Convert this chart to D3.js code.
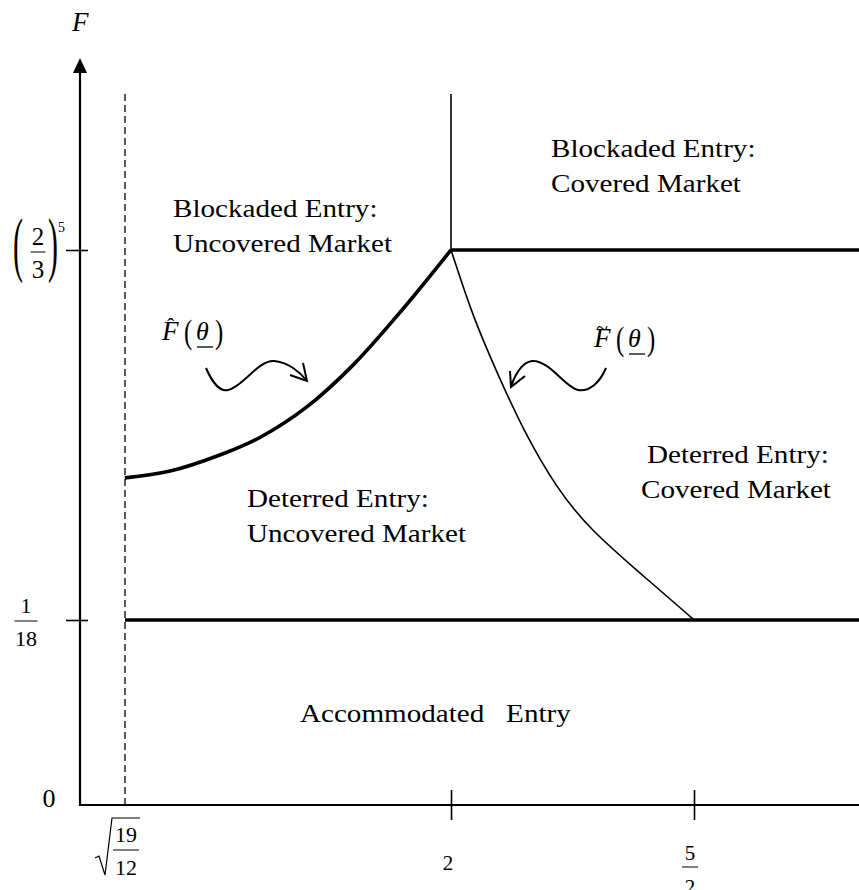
<!DOCTYPE html>
<html lang="en">
<head>
<meta charset="UTF-8">
<script src="https://d3js.org/d3.v7.min.js"></script>
<title>Entry regions</title>
<style>
  body { margin: 0; background: #fff; }
  svg text { font-family: "Liberation Serif", "Times New Roman", serif; fill: #000; }
</style>
</head>
<body>
<svg id="graph" width="859" height="890"></svg>
<script>
// theta (x) and F (y) break points of the schematic
var thetaMin = 1.156, thetaMax = 2.84
var thetaTicks = [Math.sqrt(19 / 12), 2, 2.5]
var fTicks = [0, 1 / 18, Math.pow(2 / 3, 5)]
var fTop = 0.1712        // arrow tip
var fLineTop = 0.1638    // top of dashed line and of the vertical boundary

// F-hat(theta), thick curve
var hatTheta = [1.258, 1.361, 1.474, 1.565, 1.672, 1.777, 1.891, 2.0]
var hatF = [0.0848, 0.0862, 0.0895, 0.0931, 0.0994, 0.1080, 0.1196, 0.1317]
// F-tilde(theta), thin curve
var tildeTheta = [2.0, 2.045, 2.095, 2.148, 2.218, 2.286, 2.389, 2.5]
var tildeF = [0.1317, 0.1179, 0.1064, 0.0947, 0.0825, 0.0742, 0.0652, 0.0556]

var regionText = [
  ["Blockaded Entry:", "Uncovered Market"],
  ["Blockaded Entry:", "Covered Market"],
  ["Deterred Entry:", "Uncovered Market"],
  ["Deterred Entry:", "Covered Market"],
  ["Accommodated\u00a0\u00a0 Entry"]
]

var svg = d3.select("#graph")

// piecewise scales, the picture is not drawn to scale
var x = d3.scaleLinear()
  .domain([thetaMin, thetaTicks[0], thetaTicks[1], thetaTicks[2], thetaMax])
  .range([80, 125, 451, 694, 859])
var y = d3.scaleLinear()
  .domain([fTicks[0], fTicks[1], fTicks[2], fTop])
  .range([805, 620, 250, 58])

var stretch = 1.12

function label(px, py, str, size, opts) {
  opts = opts || {}
  return svg.append("text")
    .attr("transform", "translate(" + px + "," + py + ") scale(" + (opts.sx || 1) + ",1)")
    .attr("font-size", size)
    .attr("font-style", opts.italic ? "italic" : null)
    .attr("text-anchor", opts.anchor || "start")
    .text(str)
}

function frac(cx, yNum, yBar, yDen, num, den, size, half) {
  label(cx, yNum, num, size, {anchor: "middle"})
  svg.append("line").attr("x1", cx - half).attr("x2", cx + half)
    .attr("y1", yBar).attr("y2", yBar).attr("stroke", "#000").attr("stroke-width", 1)
  label(cx, yDen, den, size, {anchor: "middle"})
}

// tick marks through the library axes, labels drawn by hand
svg.append("g")
  .attr("transform", "translate(0,790)")
  .call(d3.axisBottom(x).tickValues(thetaTicks.slice(1)).tickSize(30).tickFormat(""))
  .call(g => g.select(".domain").remove())
  .call(g => g.selectAll(".tick line").attr("stroke-width", 1.6))
svg.append("g")
  .attr("transform", "translate(66,0)")
  .call(d3.axisRight(y).tickValues(fTicks.slice(1)).tickSize(22).tickFormat(""))
  .call(g => g.select(".domain").remove())
  .call(g => g.selectAll(".tick line").attr("stroke-width", 1.6))

// axes
svg.append("line")
  .attr("x1", x(thetaMin)).attr("x2", x(thetaMax))
  .attr("y1", y(0)).attr("y2", y(0))
  .attr("stroke", "#000").attr("stroke-width", 2.2)
svg.append("line")
  .attr("x1", x(thetaMin)).attr("x2", x(thetaMin))
  .attr("y1", y(0) + 1).attr("y2", y(fTop) + 12)
  .attr("stroke", "#000").attr("stroke-width", 2.2)
svg.append("path")
  .attr("d", "M" + x(thetaMin) + "," + y(fTop) + " l-7,15 l14,0 z")
  .attr("fill", "#000")

// dashed line at sqrt(19/12)
svg.append("line")
  .attr("x1", x(thetaTicks[0])).attr("x2", x(thetaTicks[0]))
  .attr("y1", y(0)).attr("y2", y(fLineTop))
  .attr("stroke", "#000").attr("stroke-width", 1.3)
  .attr("stroke-dasharray", "7,4")

// vertical boundary at theta = 2
svg.append("line")
  .attr("x1", x(2)).attr("x2", x(2))
  .attr("y1", y(fTicks[2])).attr("y2", y(fLineTop))
  .attr("stroke", "#000").attr("stroke-width", 1.6)

// horizontal boundaries
svg.append("line")
  .attr("x1", x(2)).attr("x2", x(thetaMax))
  .attr("y1", y(fTicks[2])).attr("y2", y(fTicks[2]))
  .attr("stroke", "#000").attr("stroke-width", 3.6)
svg.append("line")
  .attr("x1", x(thetaTicks[0])).attr("x2", x(thetaMax))
  .attr("y1", y(fTicks[1])).attr("y2", y(fTicks[1]))
  .attr("stroke", "#000").attr("stroke-width", 3.6)

// curves
var hatLine = d3.line().x(d => x(d[0])).y(d => y(d[1])).curve(d3.curveCatmullRom.alpha(0.5))
var tildeLine = d3.line().x(d => x(d[0])).y(d => y(d[1])).curve(d3.curveBasis)
svg.append("path")
  .attr("d", hatLine(d3.zip(hatTheta, hatF)))
  .attr("fill", "none").attr("stroke", "#000").attr("stroke-width", 3.6)
  .attr("stroke-linejoin", "round")
svg.append("path")
  .attr("d", tildeLine(d3.zip(tildeTheta, tildeF)))
  .attr("fill", "none").attr("stroke", "#000").attr("stroke-width", 1.6)

// wavy pointers
svg.append("path")
  .attr("d", "M206,368 C212,382 220,392 228,390 C243,387 258,360 274,361 C288,362 300,372 307,381 M290,375 L307,381 L303,363")
  .attr("fill", "none").attr("stroke", "#000").attr("stroke-width", 2)
svg.append("path")
  .attr("d", "M606,368 C600,382 590,392 578,390 C565,388 550,360 532,361 C522,362 514,376 511,387 M510,371 L511,387 L525,376")
  .attr("fill", "none").attr("stroke", "#000").attr("stroke-width", 2)

// region names
var regionPos = [[173, 217], [551, 157], [247, 507], [647, 463], [300, 722]]
var secondLineDx = [0, 0, 0, -6]
regionText.forEach((lines, i) => {
  lines.forEach((t, j) => {
    label(regionPos[i][0] + (j ? secondLineDx[i] : 0), regionPos[i][1] + j * 35, t, 26, {sx: stretch})
  })
})

// axis name
label(72, 31, "F", 27, {italic: true})

// y tick labels
label(49, 807, "0", 26, {anchor: "middle"})
frac(26, 613, 621, 646, "1", "18", 22, 11.5)
frac(38, 245, 252, 278, "2", "3", 25, 7.5)
label(18, 268, "(", 71, {anchor: "middle", sx: 0.42})
label(53, 268, ")", 71, {anchor: "middle", sx: 0.42})
label(58, 232, "5", 14)

// x tick labels
frac(126, 842, 850, 875, "19", "12", 22, 13)
svg.append("path")
  .attr("d", "M95,858 L99,856 L105,875 L112,818 L140,818")
  .attr("fill", "none").attr("stroke", "#000").attr("stroke-width", 1.2)
label(448, 870, "2", 21, {anchor: "middle"})
frac(690, 860, 867, 894, "5", "2", 21, 8)

// function names
function fname(px, py, accent, adx, ady, asize) {
  label(px, py, "F", 27, {italic: true})
  label(px + adx, py + ady, accent, asize)
  label(px + 22, py + 3, "(", 33, {sx: 0.75})
  label(px + 34, py, "\u03b8", 26, {italic: true})
  svg.append("line").attr("x1", px + 35).attr("x2", px + 51)
    .attr("y1", py + 7).attr("y2", py + 7)
    .attr("stroke", "#000").attr("stroke-width", 1.3)
  label(px + 53, py + 3, ")", 33, {sx: 0.75})
}
fname(162, 340, "\u02c6", 5, -7, 22)
fname(594, 347, "~", 2, -12, 22)
</script>
</body>
</html>
